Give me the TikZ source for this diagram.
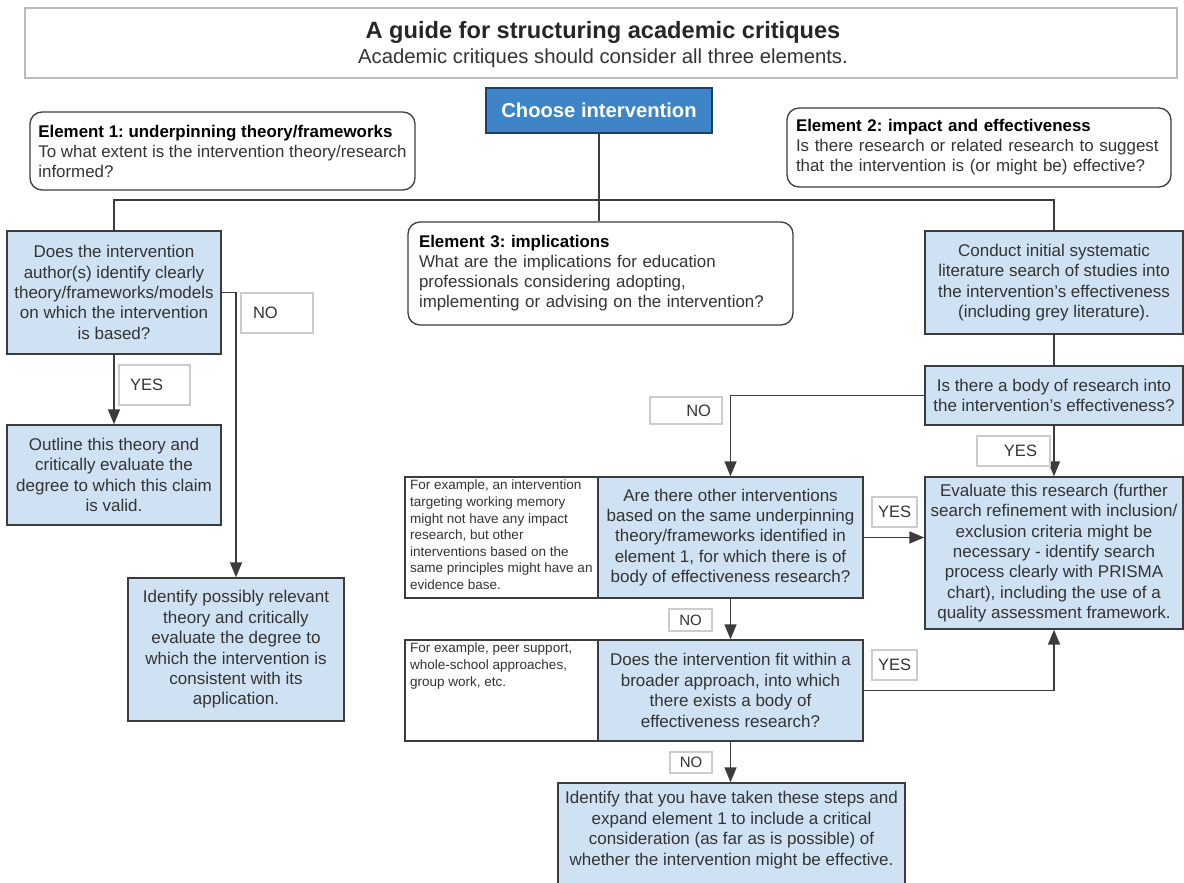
\documentclass[tikz,border=0pt]{standalone}
\usepackage{fontspec}
\setmainfont{Liberation Sans}
\usetikzlibrary{arrows.meta}
\definecolor{lblue}{HTML}{CFE2F3}
\definecolor{dblue}{HTML}{3D85C6}
\definecolor{dbord}{HTML}{1F3F66}
\definecolor{bordc}{HTML}{3C3C3C}
\definecolor{txtc}{HTML}{333333}
\definecolor{lblc}{HTML}{CCCCCC}
\definecolor{titc}{HTML}{BBBBBB}
\newcommand\myfs[2]{\fontsize{#1}{#2}\selectfont}
\frenchspacing
\begin{document}
\begin{tikzpicture}[x=1pt,y=-1pt,
  qbox/.style={draw=bordc, fill=lblue, line width=1.4pt, inner sep=0pt, align=center, text=txtc, font=\myfs{17}{20.4}},
  elbox/.style={draw=bordc, fill=white, rounded corners=12pt, line width=1.3pt, inner sep=0pt, align=left, text=txtc, font=\myfs{16.9}{20}},
  notebox/.style={draw=bordc, fill=white, line width=1.3pt, inner sep=0pt},
  notetxt/.style={inner sep=0pt, align=left, text=txtc, font=\myfs{13.5}{16.6}, anchor=north west},
  lbl/.style={draw=lblc, fill=white, line width=1.3pt, inner sep=0pt, text=txtc, font=\myfs{16.5}{18}},
  conn/.style={draw=bordc, line width=1.5pt},
  arr/.style={conn, -{Triangle[length=15pt,width=12pt]}},
]
\useasboundingbox (0,0) rectangle (1184,883);
\fill[white] (0,0) rectangle (1184,883);

% title
\node[draw=titc, line width=1.8pt, fill=white, minimum width=1152, minimum height=70, inner sep=0pt] (titlebox) at (601,43) {};
\node[inner sep=0pt, font=\myfs{23.6}{28}\bfseries, text=black!85] (title) at (603,32) {A guide for structuring academic critiques};
\node[inner sep=0pt, font=\myfs{20.3}{24}, text=txtc] (subtitle) at (603,58) {Academic critiques should consider all three elements.};

% choose intervention
\node[draw=dbord, fill=dblue, line width=1.5pt, minimum width=226, minimum height=45, inner sep=0pt, text=white, font=\myfs{20.2}{24}\bfseries] (choose) at (599,110.5) {Choose intervention};

% elements
\node[elbox, minimum width=385, minimum height=78] (e1) at (222.5,151)
 {\textbf{\color{black}Element 1: underpinning theory/frameworks}\\To what extent is the intervention theory/research\\informed?};
\node[elbox, minimum width=384, minimum height=79, text width=366] (e2) at (979,147.5)
 {\textbf{\color{black}Element 2: impact and effectiveness}\\Is there research or related research to suggest\\that the intervention is (or might be) effective?};
\node[elbox, minimum width=385, minimum height=103, text width=363] (e3) at (600.5,273.5)
 {\textbf{\color{black}Element 3: implications}\\What are the implications for education\\professionals considering adopting,\\implementing or advising on the intervention?};

% left column
\node[qbox, minimum width=214, minimum height=123] (q1) at (114,292.5)
 {Does the intervention\\author(s) identify clearly\\theory/frameworks/models\\on which the intervention\\is based?};
\node[qbox, minimum width=214, minimum height=100] (outline) at (114,475)
 {Outline this theory and\\critically evaluate the\\degree to which this claim\\is valid.};
\node[qbox, minimum width=216, minimum height=143] (idf) at (236,649.5)
 {Identify possibly relevant\\theory and critically\\evaluate the degree to\\which the intervention is\\consistent with its\\application.};

% right column
\node[qbox, minimum width=258, minimum height=103] (conduct) at (1054,282.5)
 {Conduct initial systematic\\literature search of studies into\\the intervention’s effectiveness\\(including grey literature).};
\node[qbox, minimum width=258, minimum height=59] (isthere) at (1054,395.5)
 {Is there a body of research into\\the intervention’s effectiveness?};
\node[qbox, minimum width=258, minimum height=152] (eval) at (1054,553)
 {Evaluate this research (further\\search refinement with inclusion/\\exclusion criteria might be\\necessary - identify search\\process clearly with PRISMA\\chart), including the use of a\\quality assessment framework.};

% middle questions
\node[notebox, minimum width=193, minimum height=121] (q2note) at (501.5,537.5) {};
\node[notetxt] (q2notetxt) at (410,480)
 {For example, an intervention\\targeting working memory\\might not have any impact\\research, but other\\interventions based on the\\same principles might have an\\evidence base.};
\node[qbox, minimum width=265, minimum height=121] (q2) at (730.5,537.5)
 {Are there other interventions\\based on the same underpinning\\theory/frameworks identified in\\element 1, for which there is of\\body of effectiveness research?};

\node[notebox, minimum width=193, minimum height=101] (q3note) at (501.5,690.5) {};
\node[notetxt] (q3notetxt) at (410,643)
 {For example, peer support,\\whole-school approaches,\\group work, etc.};
\node[qbox, minimum width=265, minimum height=101] (q3) at (730.5,690.5)
 {Does the intervention fit within a\\broader approach, into which\\there exists a body of\\effectiveness research?};

\node[qbox, minimum width=347, minimum height=112] (final) at (731.5,839) {};
\node[inner sep=0pt, align=center, text=txtc, font=\myfs{17}{20.4}] (finaltxt) at (731.5,830)
 {Identify that you have taken these steps and\\expand element 1 to include a critical\\consideration (as far as is possible) of\\whether the intervention might be effective.};

% connectors
\coordinate (jL) at (114,200);
\coordinate (jR) at (1054,200);
\draw[conn] (choose.south) -- (choose.south |- e3.north);
\draw[conn] (q1.north) -- (jL) -- (jR) -- (conduct.north);
\draw[arr] (q1.south) -- (outline.north);
\draw[arr] (q1.east) -| (idf.north);
\draw[conn] (conduct.south) -- (isthere.north);
\draw[arr] (isthere.west) -| (q2.north);
\draw[arr] (isthere.south) -- (eval.north);
\draw[arr] (q2.east) -- (eval.west |- q2.east);
\draw[arr] (q2.south) -- (q3.north);
\draw[arr] (q3.east) -| (eval.south);
\draw[arr] (q3.south) -- (q3.south |- final.north);

% labels
\node[lbl, minimum width=72, minimum height=40, text width=48, align=left] (no1) at (277,313) {NO};
\node[lbl, minimum width=71, minimum height=40, text width=49, align=left] (yes1) at (154.5,385) {YES};
\node[lbl, minimum width=72, minimum height=27, text width=50, align=right] (no2) at (686,410.5) {NO};
\node[lbl, minimum width=73, minimum height=30, text width=47, align=right] (yes2) at (1013.5,451) {YES};
\node[lbl, minimum width=45, minimum height=30] (yes3) at (894.5,512) {YES};
\node[lbl, minimum width=43, minimum height=22, font=\myfs{15}{17}] (no3) at (690.5,620) {NO};
\node[lbl, minimum width=45, minimum height=30] (yes4) at (894.5,665) {YES};
\node[lbl, minimum width=42, minimum height=21, font=\myfs{15}{17}] (no4) at (691,762.5) {NO};
\end{tikzpicture}
\end{document}
